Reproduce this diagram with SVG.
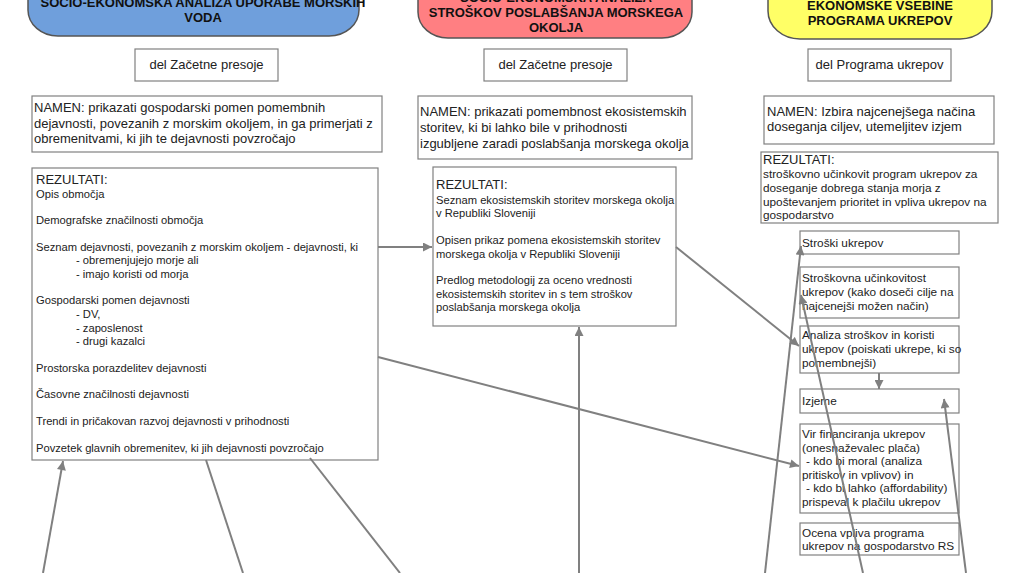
<svg xmlns="http://www.w3.org/2000/svg" width="1023" height="573" viewBox="0 0 1023 573">
<style>
.box{fill:#fff;stroke:#808080;stroke-width:1.2}
.hdr{stroke:#555;stroke-width:1.5}
.ht{font-family:"Liberation Sans",Arial,sans-serif;font-weight:bold;font-size:13px;fill:#111;text-anchor:middle}
.t13{font-family:"Liberation Sans",Arial,sans-serif;font-size:13px;fill:#222}
.t11{font-family:"Liberation Sans",Arial,sans-serif;font-size:11.2px;fill:#222}
.t12{font-family:"Liberation Sans",Arial,sans-serif;font-size:11.8px;fill:#222}
.c{text-anchor:middle}
.con{stroke:#808080;stroke-width:2;fill:none}
</style>
<defs>
<marker id="ah" viewBox="0 0 10 10" refX="10" refY="5" markerWidth="10" markerHeight="9" markerUnits="userSpaceOnUse" orient="auto">
<path d="M0,0 L10,5 L0,10 z" fill="#808080"/>
</marker>
</defs>
<rect width="1023" height="573" fill="#fff"/>

<g id="header1">
<rect class="hdr" x="28" y="-30" width="331" height="66" rx="30" ry="26" fill="#6f9fdc"/>
<text class="ht" x="203" y="7">SOCIO-EKONOMSKA ANALIZA UPORABE MORSKIH</text>
<text class="ht" x="203" y="22">VODA</text>
</g>
<g id="header2">
<rect class="hdr" x="418" y="-30" width="274" height="68" rx="30" ry="26" fill="#ff7f82"/>
<text class="ht" x="556" y="2">SOCIO-EKONOMSKA ANALIZA</text>
<text class="ht" x="556" y="17">STROŠKOV POSLABŠANJA MORSKEGA</text>
<text class="ht" x="556" y="32">OKOLJA</text>
</g>
<g id="header3">
<rect class="hdr" x="768" y="-30" width="224" height="69" rx="32" ry="28" fill="#ffff66"/>
<text class="ht" x="880" y="10">EKONOMSKE VSEBINE</text>
<text class="ht" x="880" y="25">PROGRAMA UKREPOV</text>
</g>

<g id="del1">
<rect class="box" x="135" y="49" width="143" height="32"/>
<text class="t13 c" x="206.5" y="69">del Začetne presoje</text>
</g>
<g id="del2">
<rect class="box" x="484" y="49" width="143" height="32"/>
<text class="t13 c" x="555.5" y="69">del Začetne presoje</text>
</g>
<g id="del3">
<rect class="box" x="808" y="49" width="143" height="32"/>
<text class="t13 c" x="879.5" y="69">del Programa ukrepov</text>
</g>

<g id="namen1">
<rect class="box" x="32" y="96" width="350" height="56"/>
<text class="t13" x="34" y="112">NAMEN: prikazati gospodarski pomen pomembnih</text>
<text class="t13" x="34" y="128">dejavnosti, povezanih z morskim okoljem, in ga primerjati z</text>
<text class="t13" x="34" y="143">obremenitvami, ki jih te dejavnosti povzročajo</text>
</g>
<g id="namen2">
<rect class="box" x="418" y="96" width="274" height="63"/>
<text class="t13" x="420" y="116">NAMEN: prikazati pomembnost ekosistemskih</text>
<text class="t13" x="420" y="132">storitev, ki bi lahko bile v prihodnosti</text>
<text class="t13" x="420" y="148">izgubljene zaradi poslabšanja morskega okolja</text>
</g>
<g id="namen3">
<rect class="box" x="764" y="96" width="230" height="48"/>
<text class="t13" x="767" y="116">NAMEN: Izbira najcenejšega načina</text>
<text class="t13" x="767" y="131">doseganja ciljev, utemeljitev izjem</text>
</g>

<g id="rez1">
<rect class="box" x="32" y="168" width="346" height="292"/>
<text class="t13" x="36" y="184">REZULTATI:</text>
<text class="t11" x="36" y="198">Opis območja</text>
<text class="t11" x="36" y="224">Demografske značilnosti območja</text>
<text class="t11" x="36" y="251">Seznam dejavnosti, povezanih z morskim okoljem - dejavnosti, ki</text>
<text class="t11" x="76" y="264">- obremenjujejo morje ali</text>
<text class="t11" x="76" y="278">- imajo koristi od morja</text>
<text class="t11" x="36" y="304">Gospodarski pomen dejavnosti</text>
<text class="t11" x="76" y="318">- DV,</text>
<text class="t11" x="76" y="332">- zaposlenost</text>
<text class="t11" x="76" y="345">- drugi kazalci</text>
<text class="t11" x="36" y="372">Prostorska porazdelitev dejavnosti</text>
<text class="t11" x="36" y="398">Časovne značilnosti dejavnosti</text>
<text class="t11" x="36" y="425">Trendi in pričakovan razvoj dejavnosti v prihodnosti</text>
<text class="t11" x="36" y="452">Povzetek glavnih obremenitev, ki jih dejavnosti povzročajo</text>
</g>

<g id="rez2">
<rect class="box" x="433" y="167" width="243" height="159"/>
<text class="t13" x="436" y="189">REZULTATI:</text>
<text class="t11" x="436" y="204">Seznam ekosistemskih storitev morskega okolja</text>
<text class="t11" x="436" y="217">v Republiki Sloveniji</text>
<text class="t11" x="436" y="244">Opisen prikaz pomena ekosistemskih storitev</text>
<text class="t11" x="436" y="258">morskega okolja v Republiki Sloveniji</text>
<text class="t11" x="436" y="284">Predlog metodologij za oceno vrednosti</text>
<text class="t11" x="436" y="298">ekosistemskih storitev in s tem stroškov</text>
<text class="t11" x="436" y="311">poslabšanja morskega okolja</text>
</g>

<g id="rez3">
<rect class="box" x="761" y="152" width="237" height="71"/>
<text class="t13" x="763" y="164">REZULTATI:</text>
<text class="t12" x="763" y="178">stroškovno učinkovit program ukrepov za</text>
<text class="t12" x="763" y="192">doseganje dobrega stanja morja z</text>
<text class="t12" x="763" y="206">upoštevanjem prioritet in vpliva ukrepov na</text>
<text class="t12" x="763" y="219">gospodarstvo</text>
</g>

<g id="stroski">
<rect class="box" x="800" y="231" width="159" height="23"/>
<text class="t12" x="802" y="247">Stroški ukrepov</text>
</g>
<g id="ucinkovitost">
<rect class="box" x="800" y="267" width="159" height="51"/>
<text class="t12" x="802" y="282">Stroškovna učinkovitost</text>
<text class="t12" x="802" y="296">ukrepov (kako doseči cilje na</text>
<text class="t12" x="802" y="310">najcenejši možen način)</text>
</g>
<g id="analiza">
<rect class="box" x="800" y="326" width="159" height="47"/>
<text class="t12" x="802" y="339">Analiza stroškov in koristi</text>
<text class="t12" x="802" y="353">ukrepov (poiskati ukrepe, ki so</text>
<text class="t12" x="802" y="367">pomembnejši)</text>
</g>
<g id="izjeme">
<rect class="box" x="800" y="389" width="159" height="24"/>
<text class="t12" x="802" y="405">Izjeme</text>
</g>
<g id="vir">
<rect class="box" x="800" y="424" width="159" height="89"/>
<text class="t12" x="802" y="438">Vir financiranja ukrepov</text>
<text class="t12" x="802" y="452">(onesnaževalec plača)</text>
<text class="t12" x="806" y="465">- kdo bi moral (analiza</text>
<text class="t12" x="802" y="479">pritiskov in vplivov) in</text>
<text class="t12" x="806" y="492">- kdo bi lahko (affordability)</text>
<text class="t12" x="802" y="506">prispeval k plačilu ukrepov</text>
</g>
<g id="ocena">
<rect class="box" x="800" y="523" width="159" height="32"/>
<text class="t12" x="802" y="537">Ocena vpliva programa</text>
<text class="t12" x="802" y="550">ukrepov na gospodarstvo RS</text>
</g>

<g id="connectors">
<line class="con" x1="378" y1="247" x2="432" y2="247" marker-end="url(#ah)"/>
<line class="con" x1="676" y1="247" x2="799" y2="346" marker-end="url(#ah)"/>
<line class="con" x1="378" y1="357" x2="799" y2="466" marker-end="url(#ah)"/>
<line class="con" x1="879" y1="373" x2="879" y2="389" marker-end="url(#ah)"/>
<line class="con" x1="43" y1="573" x2="63" y2="461" marker-end="url(#ah)"/>
<line class="con" x1="206" y1="460" x2="243" y2="573"/>
<line class="con" x1="310" y1="458" x2="400" y2="573"/>
<line class="con" x1="579" y1="573" x2="579" y2="327" marker-end="url(#ah)"/>
<line class="con" x1="765" y1="573" x2="801" y2="246" marker-end="url(#ah)"/>
<line class="con" x1="863" y1="573" x2="801" y2="295" marker-end="url(#ah)"/>
<line class="con" x1="966" y1="573" x2="944" y2="399" marker-end="url(#ah)"/>
</g>
</svg>
